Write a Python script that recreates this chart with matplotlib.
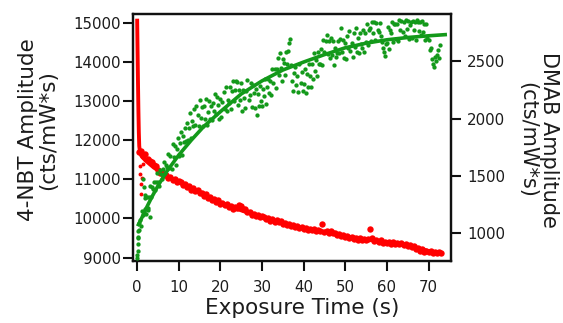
import numpy as np
import matplotlib
matplotlib.use("Agg")
import matplotlib.pyplot as plt

plt.rcParams["font.family"] = ["DejaVu Sans"]

# ---- 4-NBT amplitude (left axis), sampled every 0.5 s from 0.5 s ----
nbt_t0 = 0.5
nbt_dt = 0.5
nbt_values = [
    11690, 11720, 11600, 11640, 11530, 11470, 11450, 11360, 11330, 11230,
    11170, 11160, 11100, 11120, 11040, 11070, 10980, 11000, 10940, 10950,
    10920, 10850, 10880, 10800, 10830, 10740, 10770, 10690, 10720, 10640,
    10650, 10580, 10620, 10530, 10560, 10480, 10500, 10420, 10460, 10380,
    10400, 10340, 10380, 10300, 10330, 10250, 10300, 10270, 10340, 10310,
    10240, 10230, 10160, 10170, 10100, 10120, 10060, 10100, 10040, 10070,
    10050, 9990, 10010, 9940, 9980, 9920, 9950, 9900, 9930, 9870,
    9890, 9840, 9870, 9810, 9830, 9780, 9800, 9750, 9780, 9730,
    9760, 9710, 9740, 9700, 9730, 9680, 9710, 9670, 9850, 9660,
    9690, 9640, 9670, 9620, 9640, 9580, 9610, 9550, 9580, 9530,
    9550, 9500, 9530, 9470, 9500, 9450, 9490, 9440, 9480, 9440,
    9480, 9720, 9490, 9430, 9460, 9400, 9440, 9380, 9410, 9370,
    9400, 9360, 9390, 9350, 9380, 9340, 9370, 9320, 9350, 9300,
    9320, 9270, 9290, 9230, 9250, 9180, 9210, 9150, 9180, 9140,
    9170, 9130, 9150, 9110, 9140, 9110,
]
# stray low readings right after the initial drop
nbt_stray_t = [0.6, 0.7, 0.9, 1.0, 1.1, 1.3]
nbt_stray_v = [11340, 11130, 10870, 10620, 11040, 11400]

# fitted 4-NBT decay
nbt_fit_t = [0, 0.1, 0.2, 0.3, 0.4, 0.5, 0.7, 1, 2, 4, 7, 11, 15, 19, 23,
             28, 33, 39, 45, 50, 55, 60, 65, 70, 73]
nbt_fit_v = [15100, 14250, 13450, 12750, 12200, 11850, 11680, 11600, 11480,
             11300, 11090, 10880, 10660, 10450, 10280, 10100, 9940, 9770,
             9660, 9550, 9465, 9390, 9320, 9170, 9120]

# ---- DMAB amplitude (right axis), sampled every 0.25 s from 0 s ----
dmab_t0 = 0.0
dmab_dt = 0.25
dmab_values = [
    800, 950, 1020, 1110, 1060, 1190, 1150, 1180,
    1205, 1310, 1215, 1315, 1410, 1310, 1400, 1380,
    1445, 1370, 1445, 1525, 1440, 1405, 1550, 1510,
    1470, 1560, 1615, 1525, 1595, 1575, 1685, 1565,
    1670, 1555, 1775, 1660, 1760, 1590, 1735, 1825,
    1670, 1785, 1885, 1680, 1845, 1795, 1915, 1800,
    1960, 1815, 1915, 2045, 1830, 1980, 1930, 2080,
    1940, 2110, 2030, 1930, 2160, 2005, 2100, 1930,
    2110, 1995, 2170, 1945, 2060, 2155, 1995, 2110,
    1990, 2135, 2070, 2215, 2040, 2190, 2115, 2000,
    2170, 2015, 2145, 2235, 2085, 2275, 2065, 2165,
    2140, 2275, 2080, 2240, 2330, 2150, 2250, 2325,
    2320, 2120, 2250, 2160, 2315, 2070, 2250, 2180,
    2090, 2245, 2340, 2165, 2210, 2315, 2100, 2295,
    2220, 2090, 2260, 2030, 2215, 2110, 2285, 2150,
    2110, 2260, 2195, 2345, 2130, 2280, 2350, 2220,
    2330, 2210, 2430, 2310, 2430, 2265, 2430, 2530,
    2380, 2570, 2445, 2330, 2525, 2490, 2385, 2580,
    2480, 2590, 2660, 2700, 2470, 2330, 2240, 2400,
    2450, 2290, 2375, 2235, 2480, 2310, 2405, 2240,
    2300, 2430, 2225, 2390, 2280, 2475, 2370, 2280,
    2480, 2350, 2570, 2420, 2510, 2370, 2580, 2480,
    2480, 2610, 2470, 2690, 2580, 2680, 2730, 2565,
    2680, 2530, 2710, 2560, 2675, 2470, 2620, 2535,
    2570, 2680, 2570, 2700, 2790, 2580, 2690, 2530,
    2660, 2525, 2720, 2620, 2765, 2590, 2665, 2540,
    2750, 2630, 2795, 2585, 2710, 2570, 2750, 2655,
    2620, 2775, 2580, 2750, 2670, 2830, 2640, 2780,
    2790, 2680, 2850, 2750, 2850, 2685, 2840, 2780,
    2760, 2840, 2720, 2670, 2620, 2580, 2550, 2650,
    2660, 2800, 2610, 2780, 2750, 2850, 2670, 2825,
    2830, 2700, 2830, 2680, 2860, 2780, 2855, 2760,
    2845, 2725, 2860, 2785, 2855, 2695, 2820, 2850,
    2710, 2855, 2780, 2850, 2690, 2860, 2845, 2765,
    2850, 2730, 2855, 2760, 2825, 2690, 2830, 2710,
    2690, 2600, 2620, 2520, 2480, 2450, 2540, 2500,
    2560, 2600, 2530, 2640,
]
# fast readings and scatter at the very start of the exposure
dmab_start_t = [0.05, 0.1, 0.15, 0.2, 0.3, 0.4, 1.4, 1.6, 1.8, 2.0, 2.2, 2.6, 3.0]
dmab_start_v = [780, 840, 900, 960, 1010, 1080, 1470, 1400, 1330, 1300, 1160, 1200, 1140]

# fitted DMAB growth
dmab_fit_t = [0.3, 1, 2, 3.5, 5, 7, 10, 13, 16, 20, 25, 30, 35, 40, 45, 50,
              55, 60, 65, 70, 74]
dmab_fit_v = [1070, 1120, 1200, 1310, 1410, 1530, 1680, 1810, 1930, 2060,
              2215, 2330, 2425, 2495, 2560, 2620, 2660, 2690, 2710, 2725, 2735]

x_ticks = [0, 10, 20, 30, 40, 50, 60, 70]
left_ticks = [9000, 10000, 11000, 12000, 13000, 14000, 15000]
right_ticks = [1000, 1500, 2000, 2500]

RED = "#ff0000"
GREEN = "#13991a"
INK = "#1c1c1c"

W, H = 563, 323
fig = plt.figure(figsize=(W / 100, H / 100), dpi=100)
ax = fig.add_axes([133 / W, 1 - 261 / H, (451 - 133) / W, (261 - 14) / H])
ax2 = ax.twinx()

nbt_t = nbt_t0 + nbt_dt * np.arange(len(nbt_values))
dmab_t = dmab_t0 + dmab_dt * np.arange(len(dmab_values))

# 4-NBT: points + fit
ax.plot(nbt_fit_t, nbt_fit_v, color=RED, lw=2.8, solid_capstyle="butt", zorder=2)
ax.plot(nbt_t, nbt_values, ls="none", marker="o", ms=4.6, mew=0, color=RED, zorder=3)
ax.plot(nbt_stray_t, nbt_stray_v, ls="none", marker="o", ms=2.8, mew=0, color=RED, zorder=3)

# DMAB: points + fit
ax2.plot(dmab_t, dmab_values, ls="none", marker="o", ms=3.1, mew=0, color=GREEN, zorder=3)
ax2.plot(dmab_start_t, dmab_start_v, ls="none", marker="o", ms=3.1, mew=0, color=GREEN, zorder=3)
ax2.plot(dmab_fit_t, dmab_fit_v, color=GREEN, lw=2.6, zorder=4)

ax.set_xlim(-1.0, 75.4)
ax.set_ylim(8915, 15220)
ax2.set_ylim(751, 2916)

ax.set_xticks(x_ticks)
ax.set_yticks(left_ticks)
ax2.set_yticks(right_ticks)

for a in (ax, ax2):
    for s in a.spines.values():
        s.set_linewidth(1.6)
        s.set_color("#111111")

ax.tick_params(axis="x", direction="out", length=7.5, width=1.5, pad=6.5,
               labelsize=10.8, labelcolor=INK, color="#111111")
ax.tick_params(axis="y", direction="out", length=7.5, width=1.5, pad=1.5,
               labelsize=10.8, labelcolor=INK, color="#111111")
ax2.tick_params(axis="y", direction="out", length=7.5, width=1.5, pad=4.0,
                labelsize=10.8, labelcolor=INK, color="#111111")

ax.set_xlabel("Exposure Time (s)", fontsize=15.5, color=INK)
ax.xaxis.set_label_coords((302.5 - 133) / 318, (261 - 298) / 247)

fig.text(38 / W, 1 - 130 / H, "4-NBT Amplitude\n(cts/mW*s)", rotation=90,
         ha="center", va="center", fontsize=15.5, color=INK, linespacing=1.0,
         multialignment="center")
fig.text(538 / W, 1 - 140 / H, "DMAB Amplitude\n(cts/mW*s)", rotation=-90,
         ha="center", va="center", fontsize=15.0, color=INK, linespacing=1.1,
         multialignment="center")

fig.savefig("out.png", dpi=100)
